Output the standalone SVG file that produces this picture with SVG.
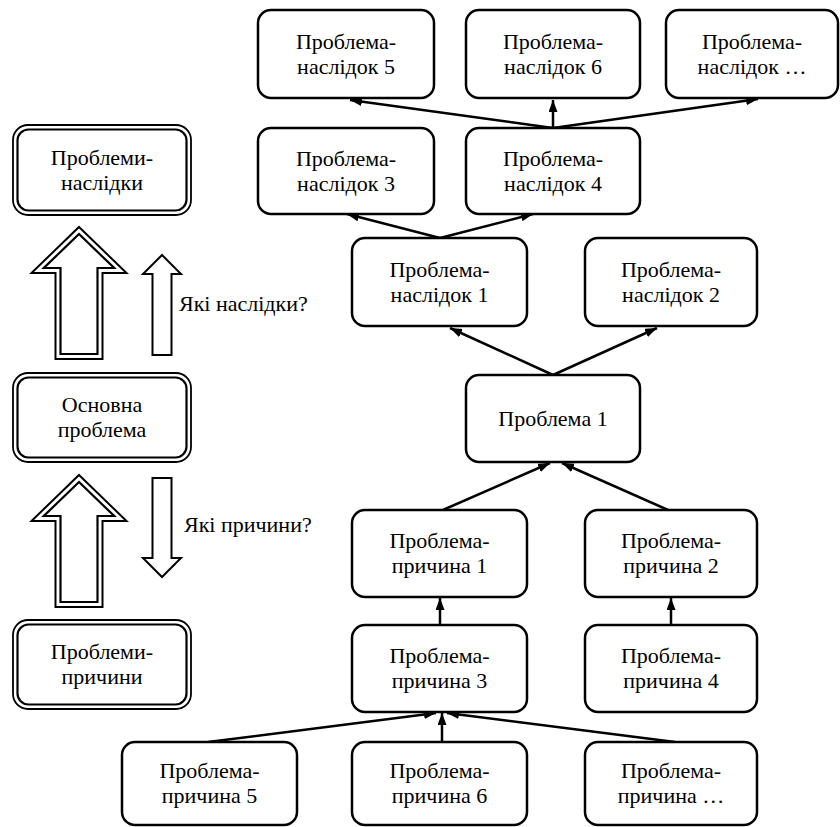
<svg xmlns="http://www.w3.org/2000/svg" width="840" height="827" viewBox="0 0 840 827">
  <defs>
    <marker id="arrowhead" markerUnits="userSpaceOnUse" markerWidth="13" markerHeight="10" refX="12" refY="4.5" orient="auto">
      <path d="M0,0 L12,4.5 L0,9 Z" fill="#000"/>
    </marker>
    <style>
      .box { fill: #fff; stroke: #000; stroke-width: 2.5; }
      .outer { fill: #fff; stroke: #000; stroke-width: 1.8; }
      .inner { fill: none; stroke: #000; stroke-width: 2.2; }
      .hollow { fill: #fff; stroke: #000; stroke-width: 2; stroke-linejoin: miter; }
      .link { stroke: #000; stroke-width: 2.5; fill: none; marker-end: url(#arrowhead); }
      text { font-family: "Liberation Serif", "Times New Roman", serif; font-size: 22px; fill: #000; text-anchor: middle; }
      .side { text-anchor: start; }
    </style>
  </defs>
  <rect width="840" height="827" fill="#fff"/>

  <!-- Legend column: double-framed stages -->
  <g id="legend-consequences">
    <rect class="outer" x="13" y="125" width="178" height="90" rx="15"/>
    <rect class="inner" x="17.5" y="129.5" width="169" height="81" rx="11"/>
    <text x="102" y="164.5">Проблеми-</text>
    <text x="102" y="189.5">наслідки</text>
  </g>
  <g id="legend-core">
    <rect class="outer" x="13" y="373" width="178" height="89" rx="15"/>
    <rect class="inner" x="17.5" y="377.5" width="169" height="80" rx="11"/>
    <text x="102" y="412">Основна</text>
    <text x="102" y="437">проблема</text>
  </g>
  <g id="legend-causes">
    <rect class="outer" x="13" y="620" width="178" height="89" rx="15"/>
    <rect class="inner" x="17.5" y="624.5" width="169" height="80" rx="11"/>
    <text x="102" y="659">Проблеми-</text>
    <text x="102" y="684">причини</text>
  </g>

  <!-- Legend column: broad double-outlined arrows -->
  <g id="legend-arrow-upper">
    <polygon class="hollow" points="79,227 126.5,273 102.5,273 102.5,359 55.5,359 55.5,273 31.5,273"/>
    <polygon class="inner" points="79,234 114.2,268 97.5,268 97.5,354 60.5,354 60.5,268 43.8,268"/>
  </g>
  <g id="legend-arrow-lower">
    <polygon class="hollow" points="79,475 126.5,521 102.5,521 102.5,607 55.5,607 55.5,521 31.5,521"/>
    <polygon class="inner" points="79,482 114.2,516 97.5,516 97.5,602 60.5,602 60.5,516 43.8,516"/>
  </g>

  <!-- Legend column: question arrows -->
  <g id="question-consequences">
    <polygon class="hollow" points="162,255 181,274 171.5,274 171.5,355 152.5,355 152.5,274 143,274"/>
    <text class="side" x="179" y="311">Які наслідки?</text>
  </g>
  <g id="question-causes">
    <polygon class="hollow" points="152.5,478 171.5,478 171.5,558 181,558 162,577 143,558 152.5,558"/>
    <text class="side" x="184" y="532">Які причини?</text>
  </g>

  <!-- Tree connectors -->
  <g id="connectors">
    <line class="link" x1="553" y1="128" x2="350" y2="100"/>
    <line class="link" x1="553" y1="128" x2="553" y2="100"/>
    <line class="link" x1="553" y1="128" x2="758" y2="99"/>
    <line class="link" x1="440" y1="238" x2="347" y2="214"/>
    <line class="link" x1="440" y1="238" x2="533" y2="214"/>
    <line class="link" x1="553" y1="375" x2="450" y2="328"/>
    <line class="link" x1="553" y1="375" x2="657" y2="328"/>
    <line class="link" x1="443" y1="510" x2="550" y2="463"/>
    <line class="link" x1="668" y1="510" x2="562" y2="463"/>
    <line class="link" x1="440" y1="625" x2="440" y2="598"/>
    <line class="link" x1="671" y1="625" x2="671" y2="598"/>
    <line class="link" x1="208" y1="742" x2="436" y2="713"/>
    <line class="link" x1="442" y1="742" x2="442" y2="713"/>
    <line class="link" x1="675" y1="742" x2="447" y2="713"/>
  </g>

  <!-- Consequences -->
  <g id="consequence-5">
    <rect class="box" x="258" y="10" width="176" height="88" rx="13"/>
    <text x="346" y="48.5">Проблема-</text>
    <text x="346" y="73.5">наслідок 5</text>
  </g>
  <g id="consequence-6">
    <rect class="box" x="466" y="10" width="174" height="88" rx="13"/>
    <text x="553" y="48.5">Проблема-</text>
    <text x="553" y="73.5">наслідок 6</text>
  </g>
  <g id="consequence-more">
    <rect class="box" x="666" y="10" width="172" height="88" rx="13"/>
    <text x="752" y="48.5">Проблема-</text>
    <text x="752" y="73.5">наслідок …</text>
  </g>
  <g id="consequence-3">
    <rect class="box" x="258" y="128" width="176" height="86" rx="13"/>
    <text x="346" y="165.5">Проблема-</text>
    <text x="346" y="190.5">наслідок 3</text>
  </g>
  <g id="consequence-4">
    <rect class="box" x="466" y="128" width="174" height="86" rx="13"/>
    <text x="553" y="165.5">Проблема-</text>
    <text x="553" y="190.5">наслідок 4</text>
  </g>
  <g id="consequence-1">
    <rect class="box" x="352" y="238" width="175" height="88" rx="13"/>
    <text x="439.5" y="276.5">Проблема-</text>
    <text x="439.5" y="301.5">наслідок 1</text>
  </g>
  <g id="consequence-2">
    <rect class="box" x="585" y="238" width="172" height="88" rx="13"/>
    <text x="671" y="276.5">Проблема-</text>
    <text x="671" y="301.5">наслідок 2</text>
  </g>

  <!-- Core problem -->
  <g id="problem-1">
    <rect class="box" x="466" y="375" width="174" height="87" rx="13"/>
    <text x="553" y="426">Проблема 1</text>
  </g>

  <!-- Causes -->
  <g id="cause-1">
    <rect class="box" x="352" y="510" width="175" height="87" rx="13"/>
    <text x="439.5" y="548">Проблема-</text>
    <text x="439.5" y="573">причина 1</text>
  </g>
  <g id="cause-2">
    <rect class="box" x="585" y="510" width="172" height="87" rx="13"/>
    <text x="671" y="548">Проблема-</text>
    <text x="671" y="573">причина 2</text>
  </g>
  <g id="cause-3">
    <rect class="box" x="352" y="625" width="175" height="87" rx="13"/>
    <text x="439.5" y="663">Проблема-</text>
    <text x="439.5" y="688">причина 3</text>
  </g>
  <g id="cause-4">
    <rect class="box" x="585" y="625" width="172" height="87" rx="13"/>
    <text x="671" y="663">Проблема-</text>
    <text x="671" y="688">причина 4</text>
  </g>
  <g id="cause-5">
    <rect class="box" x="122" y="742" width="175" height="83" rx="13"/>
    <text x="209.5" y="778">Проблема-</text>
    <text x="209.5" y="803">причина 5</text>
  </g>
  <g id="cause-6">
    <rect class="box" x="352" y="742" width="175" height="83" rx="13"/>
    <text x="439.5" y="778">Проблема-</text>
    <text x="439.5" y="803">причина 6</text>
  </g>
  <g id="cause-more">
    <rect class="box" x="585" y="742" width="172" height="83" rx="13"/>
    <text x="671" y="778">Проблема-</text>
    <text x="671" y="803">причина …</text>
  </g>
</svg>
